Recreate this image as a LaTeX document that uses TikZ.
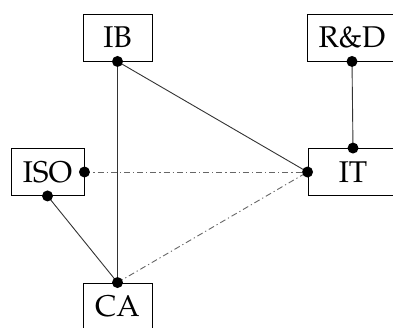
\documentclass[tikz,border=0pt]{standalone}
\usepackage[T1]{fontenc}
\usepackage{mathpazo}
\tikzset{
  box/.style={draw=black, line width=0.9pt, minimum height=47pt, inner sep=0pt,
    font=\fontsize{30}{36}\selectfont, fill=white},
  link/.style={draw=black!80, line width=0.9pt},
  weak/.style={draw=black!60, line width=0.9pt, dash pattern=on 6pt off 3pt on 1.2pt off 3pt},
  pin/.style={fill=black}
}
\begin{document}
\begin{tikzpicture}[x=1pt,y=-1pt]
\useasboundingbox (0,0) rectangle (393,327);
\node[box, minimum width=69pt] (IB) at (117.5,37.5) {IB};
\node[box, minimum width=90pt] (RD) at (352,37.5) {R\&D};
\node[box, minimum width=90pt] (IT) at (353,172) {IT};
\node[box, minimum width=73pt] (ISO) at (47.5,172) {ISO};
\node[box, minimum width=69pt] (CA) at (117.5,306.5) {CA};
\draw[link] (IB.south) -- (CA.north);
\draw[link] (IB.south) -- (IT.west);
\draw[link] (RD.south) -- (IT.north);
\draw[link] (ISO.south) -- (CA.north);
\draw[weak] (ISO.east) -- (IT.west);
\draw[weak] (CA.north) -- (IT.west);
\foreach \p in {IB.south, RD.south, IT.north, IT.west, ISO.east, ISO.south, CA.north}
  \fill[pin] (\p) circle (5.5);
\end{tikzpicture}
\end{document}
